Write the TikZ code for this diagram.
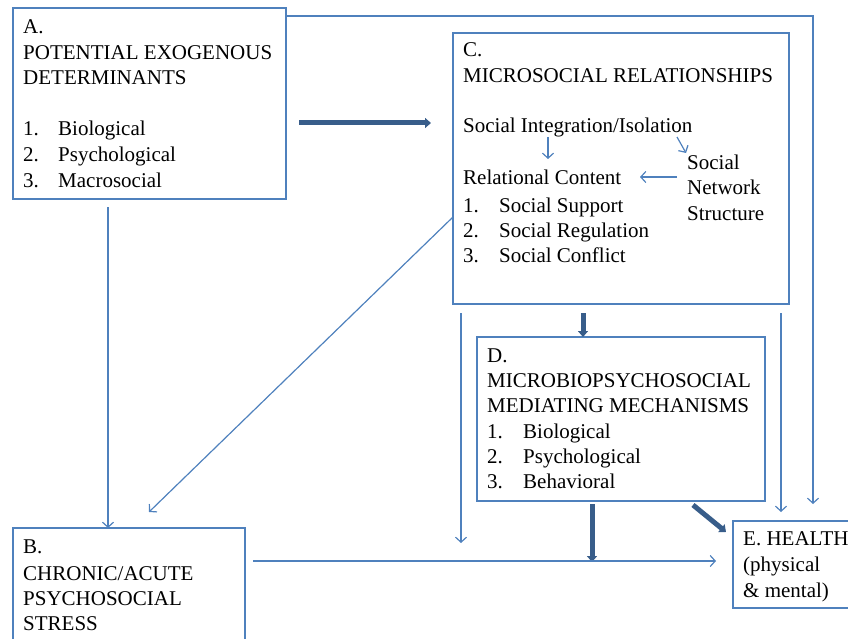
\documentclass[tikz,border=0pt]{standalone}
\usepackage{fontspec}
\setmainfont{Liberation Serif}
\usetikzlibrary{arrows.meta,calc}
\definecolor{boxblue}{HTML}{4F81BD}
\definecolor{darkblue}{HTML}{385D8A}
\begin{document}
\begin{tikzpicture}[x=1pt,y=-1pt,
 box/.style={draw=boxblue,line width=1.4pt,rectangle,inner sep=0pt,outer sep=0pt,anchor=north west},
 txt/.style={anchor=base west,inner sep=0pt,font=\fontsize{21}{25}\selectfont},
 thinarr/.style={draw=boxblue,line width=1.2pt,-{Straight Barb[length=5pt,width=11pt]}},
 heavyarr/.style={draw=darkblue,line width=5pt,-{Triangle[length=6pt,width=10pt]}}
]
\useasboundingbox (0,0) rectangle (848,639);
% boxes
\node[box,minimum width=273pt,minimum height=191pt] (A) at (13,8) {};
\node[box,minimum width=336pt,minimum height=271pt] (C) at (453,33) {};
\node[box,minimum width=288pt,minimum height=164pt] (D) at (477,337) {};
\node[box,minimum width=232pt,minimum height=130pt] (B) at (13,528) {};
\node[box,minimum width=140pt,minimum height=87pt] (E) at (733,521) {};
% A texts
\node[txt] (a0) at (23,34) {A.};
\node[txt] (a1) at (23,60) {POTENTIAL EXOGENOUS};
\node[txt] (a2) at (23,85) {DETERMINANTS};
\node[txt] (a3n) at (23,136) {1.};
\node[txt] (a3) at (58,136) {Biological};
\node[txt] (a4n) at (23,162) {2.};
\node[txt] (a4) at (58,162) {Psychological};
\node[txt] (a5n) at (23,187) {3.};
\node[txt] (a5) at (58,187) {Macrosocial};
% C texts
\node[txt] (c0) at (463,57) {C.};
\node[txt] (c1) at (463,83) {MICROSOCIAL RELATIONSHIPS};
\node[txt] (si) at (463,133) {Social Integration/Isolation};
\node[txt] (rc) at (463,185) {Relational Content};
\node[txt] (c3n) at (463,212) {1.};
\node[txt] (c3) at (499,212) {Social Support};
\node[txt] (c4n) at (463,237) {2.};
\node[txt] (c4) at (499,237) {Social Regulation};
\node[txt] (c5n) at (463,262) {3.};
\node[txt] (c5) at (499,262) {Social Conflict};
\node[txt] (sn1) at (687,170) {Social};
\node[txt] (sn2) at (687,195) {Network};
\node[txt] (sn3) at (687,220) {Structure};
% D texts
\node[txt] (d0) at (487,362) {D.};
\node[txt] (d1) at (487,387) {MICROBIOPSYCHOSOCIAL};
\node[txt] (d2) at (487,412) {MEDIATING MECHANISMS};
\node[txt] (d3n) at (487,438) {1.};
\node[txt] (d3) at (523,438) {Biological};
\node[txt] (d4n) at (487,463) {2.};
\node[txt] (d4) at (523,463) {Psychological};
\node[txt] (d5n) at (487,488) {3.};
\node[txt] (d5) at (523,488) {Behavioral};
% B texts
\node[txt] (b0) at (23,553) {B.};
\node[txt] (b1) at (23,580) {CHRONIC/ACUTE};
\node[txt] (b2) at (23,605) {PSYCHOSOCIAL};
\node[txt] (b3) at (23,630) {STRESS};
% E texts
\node[txt] (e0) at (743,545) {E. HEALTH};
\node[txt] (e1) at (743,571) {(physical};
\node[txt] (e2) at (743,597) {\& mental)};
% inner C arrows
\coordinate (p1) at (548,137);
\coordinate (p2) at (548,159);
\coordinate (q1) at (677,137);
\coordinate (q2) at (686,153);
\coordinate (r1) at (677,177);
\coordinate (r2) at (640,177);
\draw[thinarr] (p1) -- (p2);
\draw[thinarr] (q1) -- (q2);
\draw[thinarr] (r1) -- (r2);
% heavy arrows
\draw[heavyarr] ($(A.east |- 0,123)+(13,0)$) -- ($(C.west |- 0,123)+(-22,0)$);
\draw[heavyarr] ($(C.south -| 583,0)+(0,9)$) -- (D.north -| 583,0);
\draw[heavyarr] ($(D.south -| 592,0)+(0,3)$) -- (592,562);
\draw[heavyarr] (693,505) -- ($(E.north west)+(-7,11)$);
% thin connectors
\draw[thinarr] (A.north east |- 0,16) -| ($(E.north -| 813,0)+(0,-17)$);
\draw[thinarr] ($(A.south -| 108,0)+(0,8)$) -- (B.north -| 108,0);
\draw[thinarr] (C.west |- 0,217) -- (149,512);
\draw[thinarr] ($(B.east |- 0,561)+(8,0)$) -- ($(E.west |- 0,561)+(-17,0)$);
\draw[thinarr] ($(C.south -| 461,0)+(0,9)$) -- (461,543);
\draw[thinarr] ($(C.south -| 781,0)+(0,9)$) -- ($(E.north -| 781,0)+(0,-9)$);
\end{tikzpicture}
\end{document}
